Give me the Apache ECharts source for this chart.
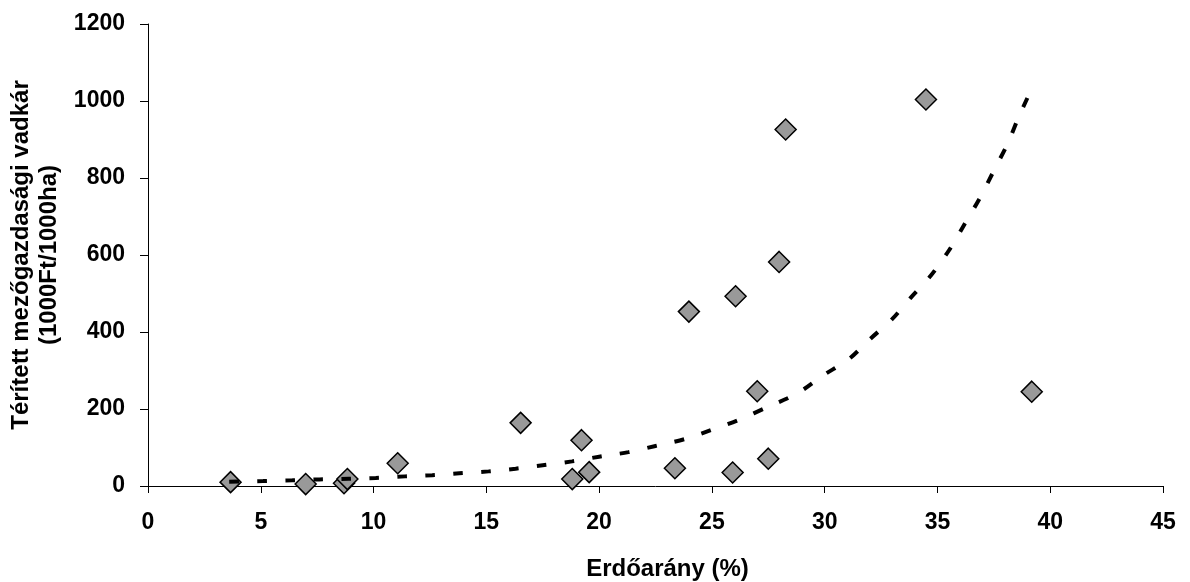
<!DOCTYPE html>
<html>
<head>
<meta charset="utf-8">
<script src="https://cdn.jsdelivr.net/npm/echarts@6/dist/echarts.min.js"></script>
<style>
html,body{margin:0;padding:0;background:#fff;}
#chart{width:1190px;height:582px;}
</style>
</head>
<body>
<div id="chart"></div>
<script>
// Observed points: forest ratio (%) vs compensated agricultural game damage
const forestPct = [3.66, 6.99, 8.69, 8.84, 11.07, 16.52, 18.81, 19.22, 19.56, 23.36, 23.98, 25.92, 26.05, 27.01, 27.5, 27.98, 28.27, 34.49, 39.18];
const damage    = [10, 5, 7, 18, 59, 164, 18, 119, 36, 46, 453, 35, 493, 246, 71, 582, 926, 1004, 245];

// Trend line
const trendX = [3.6, 5.1, 6.4, 7.6, 8.9, 10.1, 11.4, 12.6, 13.8, 15.1, 16.3, 17.5, 18.8, 20.0, 21.3, 22.5, 23.8, 25.0, 26.2, 27.5, 28.8, 29.9, 31.1, 32.0, 33.0, 33.8, 34.7, 35.5, 36.2, 36.9, 37.5, 38.1, 38.6, 39.1];
const trendY = [11, 13, 15, 17, 19, 21, 25, 28, 33, 38, 45, 54, 64, 76, 88, 104, 122, 146, 172, 206, 241, 286, 331, 381, 434, 488, 546, 611, 680, 750, 819, 888, 958, 1022];

const xTicks = [0, 5, 10, 15, 20, 25, 30, 35, 40, 45];
const yTicks = [0, 200, 400, 600, 800, 1000, 1200];

const xTitle = 'Erdőarány (%)';
const yTitle = 'Térített mezőgazdasági vadkár\n(1000Ft/1000ha)';

const FONT = "'Liberation Sans', Arial, sans-serif";

const chart = echarts.init(document.getElementById('chart'));
chart.setOption({
  animation: false,
  backgroundColor: '#ffffff',
  grid: { left: 148, right: 27, top: 24, bottom: 96, containLabel: false, outerBoundsMode: 'none' },
  xAxis: {
    type: 'value',
    min: xTicks[0], max: xTicks[xTicks.length - 1], interval: 5,
    name: xTitle,
    nameLocation: 'middle',
    nameGap: 71,
    nameTextStyle: { fontFamily: FONT, fontWeight: 'bold', fontSize: 24, color: '#000', padding: [0, 0, 0, 24] },
    axisLine: { lineStyle: { color: '#000', width: 1 } },
    axisTick: { show: true, inside: false, length: 7, lineStyle: { color: '#000' } },
    axisLabel: { margin: 25, fontFamily: FONT, fontWeight: 'bold', fontSize: 23, color: '#000', formatter: v => String(v) },
    splitLine: { show: false }
  },
  yAxis: {
    type: 'value',
    min: yTicks[0], max: yTicks[yTicks.length - 1], interval: 200,
    name: yTitle,
    nameLocation: 'middle',
    nameGap: 79,
    nameRotate: 90,
    nameTextStyle: { fontFamily: FONT, fontWeight: 'bold', fontSize: 24, color: '#000', lineHeight: 28, align: 'center', padding: [0, 0, 0, 0] },
    axisLine: { show: true, lineStyle: { color: '#000', width: 1 } },
    axisTick: { show: true, inside: false, length: 8, lineStyle: { color: '#000' } },
    axisLabel: { margin: 23, fontFamily: FONT, fontWeight: 'bold', fontSize: 23, color: '#000', formatter: v => String(v) },
    splitLine: { show: false }
  },
  series: [
    {
      type: 'scatter',
      symbol: 'diamond',
      symbolSize: 21,
      itemStyle: { color: '#999999', borderColor: '#000000', borderWidth: 1.5, opacity: 1 },
      data: forestPct.map((x, i) => [x, damage[i]]),
      z: 2
    },
    {
      type: 'line',
      showSymbol: false,
      smooth: 0.3,
      lineStyle: { color: '#000000', width: 4, type: [10, 18] },
      data: trendX.map((x, i) => [x, trendY[i]]),
      z: 3
    }
  ]
});
</script>
</body>
</html>
